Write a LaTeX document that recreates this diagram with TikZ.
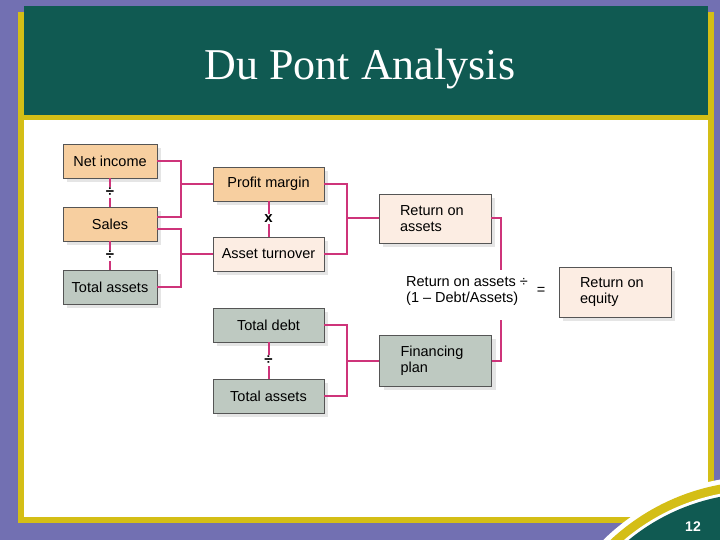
\documentclass[tikz,border=0pt]{standalone}
\usepackage{fontspec}
\setmainfont{Liberation Sans}
\newfontfamily\titlefont{Liberation Serif}
\usetikzlibrary{shadows}

\definecolor{slidepurple}{RGB}{114,112,178}
\definecolor{slideyellow}{RGB}{212,190,22}
\definecolor{slidegreen}{RGB}{16,90,82}
\definecolor{tanfill}{RGB}{247,207,160}
\definecolor{pinkfill}{RGB}{252,237,227}
\definecolor{greyfill}{RGB}{190,201,193}
\definecolor{linkcol}{RGB}{206,52,122}
\definecolor{edgecol}{RGB}{85,85,85}

\tikzset{
  box/.style={draw=edgecol, line width=0.7pt, inner sep=0pt,
    font=\fontsize{14.5}{16.5}\selectfont,
    drop shadow={shadow xshift=4pt, shadow yshift=-4pt, fill=black!25, opacity=0.4}},
  smallbox/.style={box, minimum width=94pt, minimum height=34pt},
  midbox/.style={box, minimum width=111pt, minimum height=34pt},
  bigbox/.style={box, minimum width=112pt, minimum height=50pt,
    align=flush left, text width=70pt, inner xsep=21pt},
  link/.style={draw=linkcol, line width=2pt},
  opsign/.style={fill=white, inner sep=1.5pt, font=\fontsize{15}{15}\selectfont\bfseries}
}

\begin{document}
\begin{tikzpicture}[x=1pt, y=-1pt]
\useasboundingbox (0,0) rectangle (720,540);
\clip (0,0) rectangle (720,540);

% slide frame
\fill[slidepurple] (0,0) rectangle (720,540);
\fill[slideyellow] (18,12) rectangle (714,523);
\fill[white] (24,120) rectangle (708,517);
\fill[slidegreen] (24,6) rectangle (708,115);
\node[anchor=base, text=white, font=\titlefont\fontsize{44}{44}\selectfont] (title) at (360,79.5) {Du Pont Analysis};

% corner with page number
\fill[white] (760,700) circle (224);
\fill[slideyellow] (760,700) circle (219);
\fill[white] (760,700) circle (210);
\fill[slidegreen] (760,700) circle (207);
\node[text=white, font=\fontsize{14}{14}\selectfont\bfseries] (pagenum) at (693,527) {12};

% boxes
\node[smallbox, fill=tanfill] (net) at (110,161) {Net income};
\node[smallbox, fill=tanfill] (sales) at (110,224) {Sales};
\node[smallbox, fill=greyfill] (assetsA) at (110,287) {Total assets};
\node[midbox, fill=tanfill] (margin) at (268.5,184) {Profit margin};
\node[midbox, fill=pinkfill] (turnover) at (268.5,254) {Asset turnover};
\node[midbox, fill=greyfill] (debt) at (268.5,325) {Total debt};
\node[midbox, fill=greyfill] (assetsB) at (268.5,396) {Total assets};
\node[bigbox, fill=pinkfill, minimum height=49pt] (roa) at (435,218.5) {Return on\\assets};
\node[bigbox, fill=greyfill, minimum height=51pt] (plan) at (435.5,360.5) {Financing\\plan};
\node[bigbox, fill=pinkfill] (roe) at (615,292) {Return on\\equity};

\node[align=left, inner sep=0pt, font=\fontsize{14.5}{16.5}\selectfont] (formula) at (467,291) {Return on assets ÷\\(1 – Debt/Assets)};
\node[font=\fontsize{14.5}{14.5}\selectfont] (equals) at (541,291) {=};

% junctions
\coordinate (j1) at (181,184);
\coordinate (j2) at (181,254);
\coordinate (j3) at (347,218.5);
\coordinate (j4) at (347,360.5);
\coordinate (r1) at (501,270);
\coordinate (r2) at (501,320);

% connectors
\draw[link] (net.east) -| (j1) |- ([yshift=7pt]sales.east);
\draw[link] (j1) -- (margin.west);
\draw[link] ([yshift=-5pt]sales.east) -| (j2) |- (assetsA.east);
\draw[link] (j2) -- (turnover.west);
\draw[link] (margin.east) -| (j3) |- (turnover.east);
\draw[link] (j3) -- (roa.west);
\draw[link] (debt.east) -| (j4) |- (assetsB.east);
\draw[link] (j4) -- (plan.west);
\draw[link] (roa.east) -| (r1);
\draw[link] (plan.east) -| (r2);

% operators
\draw[link] (net.south) -- (sales.north) node[opsign, midway] {÷};
\draw[link] (sales.south) -- (assetsA.north) node[opsign, midway] {÷};
\draw[link] (margin.south) -- (turnover.north) node[opsign, midway] {x};
\draw[link] (debt.south) -- (assetsB.north) node[opsign, midway] {÷};
\end{tikzpicture}
\end{document}
